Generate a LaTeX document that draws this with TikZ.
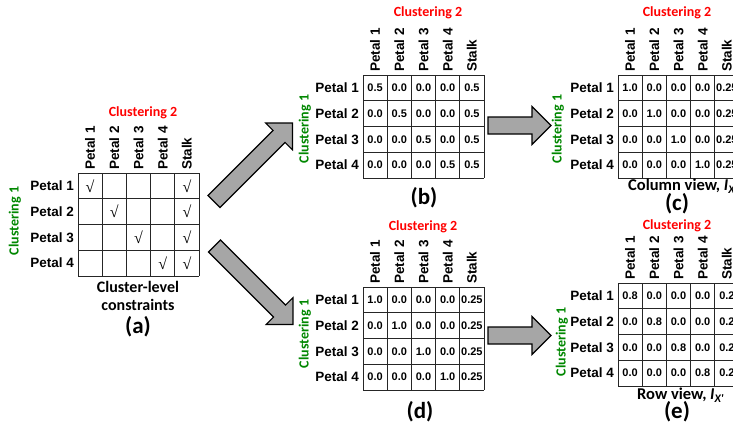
\documentclass[tikz,border=0pt]{standalone}
\usepackage{fontspec}
\newfontfamily\lsans{Liberation Sans}
\newfontfamily\calib{Carlito}
\newfontfamily\tserif{Liberation Serif}
\definecolor{cgreen}{RGB}{0,135,0}
\definecolor{cred}{RGB}{255,0,0}
\definecolor{afill}{RGB}{166,166,166}
\tikzset{
 gridline/.style={line width=1pt, draw=black!85},
 colhead/.style={rotate=90, anchor=west, inner sep=0pt, font=\lsans\bfseries\fontsize{13.5}{14}\selectfont},
 rowhead/.style={anchor=east, inner sep=0pt, font=\lsans\bfseries\fontsize{13.5}{14}\selectfont},
 cellval/.style={inner sep=0pt, font=\lsans\bfseries\fontsize{11}{12}\selectfont},
 checkval/.style={inner sep=0pt, font=\tserif\fontsize{16}{17}\selectfont},
 clusttwo/.style={text=cred, inner sep=0pt, font=\calib\bfseries\fontsize{14}{15}\selectfont},
 clustone/.style={text=cgreen, rotate=90, inner sep=0pt, font=\calib\bfseries\fontsize{14}{15}\selectfont},
 captext/.style={inner sep=0pt, font=\calib\bfseries\fontsize{16}{18}\selectfont, align=center},
 panelname/.style={inner sep=0pt, font=\calib\bfseries\fontsize{23}{25}\selectfont},
 viewlabel/.style={anchor=west, inner sep=0pt, font=\calib\bfseries\fontsize{16.5}{18}\selectfont},
 arrowbody/.style={draw=black, line width=1.1pt, fill=afill, line join=miter},
 blockarrow/.pic={\path[arrowbody] (0,-8.5) -- ({#1-19},-8.5) -- ({#1-19},-19) -- (#1,0) -- ({#1-19},19) -- ({#1-19},8.5) -- (0,8.5) -- cycle;}
}
% #1 prefix, #2 x0, #3 y0, #4 cell style, #5-#8 rows
\newcommand\matpanel[8]{%
\begin{scope}[shift={(#2,#3)}]
 \foreach \i in {0,...,4} \draw[gridline] (0,\i*25.75) -- (121,\i*25.75);
 \foreach \i in {0,...,5} \draw[gridline] (\i*24.2,0) -- (\i*24.2,103);
 \foreach \t [count=\j] in {Petal 1,Petal 2,Petal 3,Petal 4,Stalk}
   \node[colhead] (#1-c\j) at ({(\j-0.5)*24.2},-3) {\t};
 \foreach \j in {1,...,4} \node[rowhead] (#1-r\j) at (-4,{(\j-0.5)*25.75}) {Petal \j};
 \foreach \rowvals [count=\r] in {{#5},{#6},{#7},{#8}}
   \foreach \v [count=\c] in \rowvals
     \node[#4] (#1-\r-\c) at ({(\c-0.5)*24.2},{(\r-0.5)*25.75}) {\v};
\end{scope}}
\begin{document}
\begin{tikzpicture}[x=1pt,y=-1pt]
\useasboundingbox (0,0) rectangle (733,423);
\clip (0,0) rectangle (733,423);
% (a)
\matpanel{a}{78}{173}{checkval}{√,{},{},{},√}{{},√,{},{},√}{{},{},√,{},√}{{},{},{},√,√}
\node[clusttwo] (a-top) at (143,113) {Clustering 2};
\node[clustone] (a-left) at (15,221) {Clustering 1};
\node[captext] (a-cap) at (138,296) {Cluster-level\\constraints};
\node[panelname] (a-name) at (138,327) {(a)};
% (b)
\matpanel{b}{363}{75}{cellval}{0.5,0.0,0.0,0.0,0.5}{0.0,0.5,0.0,0.0,0.5}{0.0,0.0,0.5,0.0,0.5}{0.0,0.0,0.0,0.5,0.5}
\node[clusttwo] (b-top) at (428,13) {Clustering 2};
\node[clustone] (b-left) at (305,129) {Clustering 1};
\node[panelname] (b-name) at (424,198) {(b)};
% (c)
\matpanel{c}{618}{75}{cellval}{1.0,0.0,0.0,0.0,0.25}{0.0,1.0,0.0,0.0,0.25}{0.0,0.0,1.0,0.0,0.25}{0.0,0.0,0.0,1.0,0.25}
\node[clusttwo] (c-top) at (677,13) {Clustering 2};
\node[clustone] (c-left) at (558,129) {Clustering 1};
\node[viewlabel] (c-view) at (628,186) {Column view, {\itshape I}\textsubscript{\itshape X}};
\node[panelname] (c-name) at (677,204) {(c)};
% (d)
\matpanel{d}{363}{287}{cellval}{1.0,0.0,0.0,0.0,0.25}{0.0,1.0,0.0,0.0,0.25}{0.0,0.0,1.0,0.0,0.25}{0.0,0.0,0.0,1.0,0.25}
\node[clusttwo] (d-top) at (423,227) {Clustering 2};
\node[clustone] (d-left) at (305,334) {Clustering 1};
\node[panelname] (d-name) at (420,412) {(d)};
% (e)
\matpanel{e}{618}{283}{cellval}{0.8,0.0,0.0,0.0,0.2}{0.0,0.8,0.0,0.0,0.2}{0.0,0.0,0.8,0.0,0.2}{0.0,0.0,0.0,0.8,0.2}
\node[clusttwo] (e-top) at (677,226) {Clustering 2};
\node[clustone] (e-left) at (562,342) {Clustering 1};
\node[viewlabel] (e-view) at (637,395) {Row view, {\itshape I}\textsubscript{\itshape X'}};
\node[panelname] (e-name) at (677,412) {(e)};
% block arrows
\pic[rotate=45] at (214,201.5) {blockarrow=111};
\pic[rotate=-45] at (214.5,246) {blockarrow=111};
\pic at (488,125.5) {blockarrow=63};
\pic at (488,335.5) {blockarrow=63};
\end{tikzpicture}
\end{document}
